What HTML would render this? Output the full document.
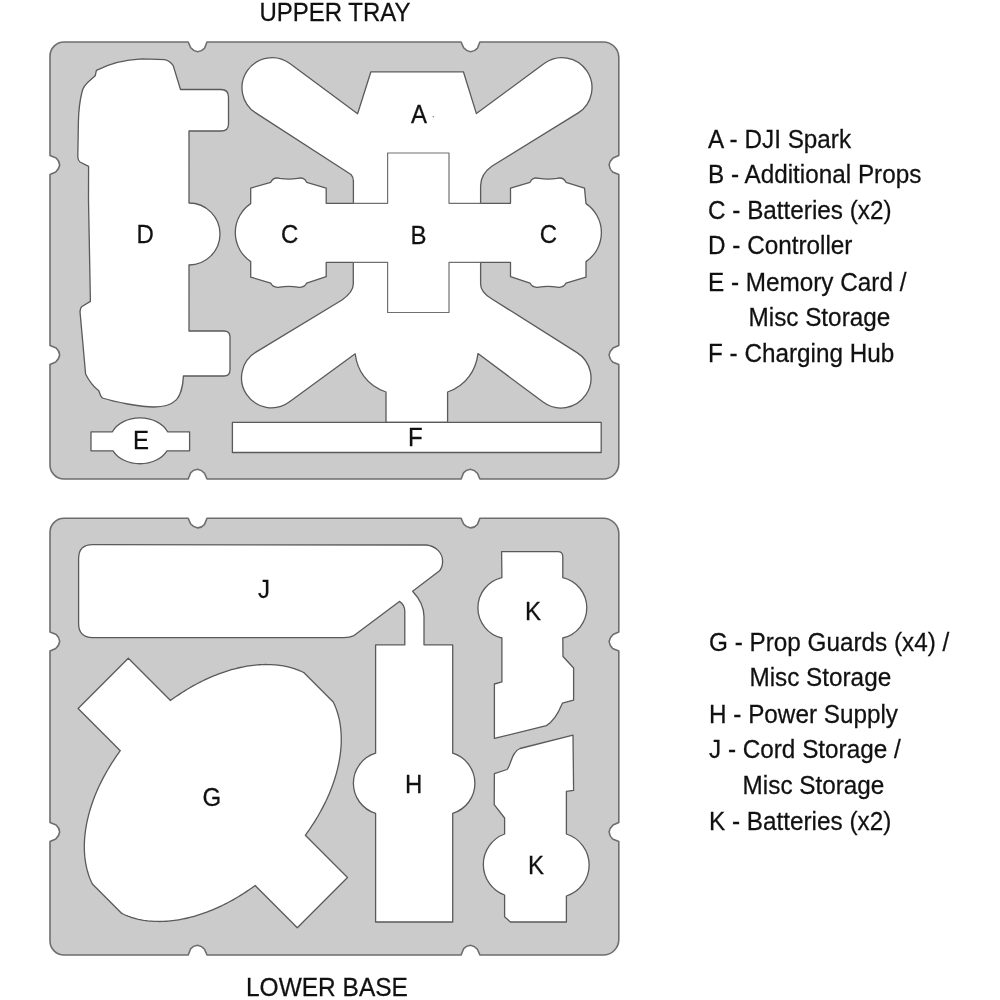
<!DOCTYPE html>
<html><head><meta charset="utf-8"><title>Tray layout</title>
<style>html,body{margin:0;padding:0;background:#fff;width:1000px;height:1000px;overflow:hidden;font-family:"Liberation Sans",sans-serif;}</style>
</head><body>
<svg width="1000" height="1000" viewBox="0 0 1000 1000" style="position:absolute;left:0;top:0;will-change:transform">
<g stroke="#5a5a5a" stroke-width="1.3" stroke-linejoin="round">
<path d="M64,42 L188.2,42 L190.7,47.8 Q193.4,51 197.6,51.7 Q202.2,51.1 204.5,48.2 L207,42 L461.1,42 L463.6,47.8 Q466.3,51 470.5,51.7 Q475.1,51.1 477.4,48.2 L479.9,42 L603.3,42 C611.82,42 618.8,48.98 618.8,57.5 L618.8,155.6 L613,158.1 Q609.8,160.8 609.1,165 Q609.7,169.6 612.6,171.9 L618.8,174.4 L618.8,345.6 L613,348.1 Q609.8,350.8 609.1,355 Q609.7,359.6 612.6,361.9 L618.8,364.4 L618.8,463.5 C618.8,472.02 611.82,479 603.3,479 L479.9,479 L477.4,473.2 Q474.7,470 470.5,469.3 Q465.9,469.9 463.6,472.8 L461.1,479 L207,479 L204.5,473.2 Q201.8,470 197.6,469.3 Q193,469.9 190.7,472.8 L188.2,479 L64,479 C56.3,479 50,472.7 50,465 L50,364.4 L55.8,361.9 Q59,359.2 59.7,355 Q59.1,350.4 56.2,348.1 L50,345.6 L50,174.4 L55.8,171.9 Q59,169.2 59.7,165 Q59.1,160.4 56.2,158.1 L50,155.6 L50,56 C50,48.3 56.3,42 64,42 Z" fill="#cbcbcb" stroke="#6e6e6e" stroke-width="1.6"/>
<path d="M64,518.2 L188.2,518.2 L190.7,524 Q193.4,527.2 197.6,527.9 Q202.2,527.3 204.5,524.4 L207,518.2 L461.1,518.2 L463.6,524 Q466.3,527.2 470.5,527.9 Q475.1,527.3 477.4,524.4 L479.9,518.2 L603.3,518.2 C611.82,518.2 618.8,525.18 618.8,533.7 L618.8,632.1 L613,634.6 Q609.8,637.3 609.1,641.5 Q609.7,646.1 612.6,648.4 L618.8,650.9 L618.8,822.6 L613,825.1 Q609.8,827.8 609.1,832 Q609.7,836.6 612.6,838.9 L618.8,841.4 L618.8,939.5 C618.8,948.02 611.82,955 603.3,955 L479.9,955 L477.4,949.2 Q474.7,946 470.5,945.3 Q465.9,945.9 463.6,948.8 L461.1,955 L207,955 L204.5,949.2 Q201.8,946 197.6,945.3 Q193,945.9 190.7,948.8 L188.2,955 L64,955 C56.3,955 50,948.7 50,941 L50,841.4 L55.8,838.9 Q59,836.2 59.7,832 Q59.1,827.4 56.2,825.1 L50,822.6 L50,650.9 L55.8,648.4 Q59,645.7 59.7,641.5 Q59.1,636.9 56.2,634.6 L50,632.1 L50,532.2 C50,524.5 56.3,518.2 64,518.2 Z" fill="#cbcbcb" stroke="#6e6e6e" stroke-width="1.6"/>
<g fill="#ffffff">
<path d="M96.4,70.4 C110,63 128,59.5 142,58.8 L164.8,59.6 Q170,61 173.2,65.6 L180.5,89.5 L221,89.5 Q228.5,89.5 228.5,97 L228.5,124 Q228.5,131 221,131 L189,131 L189,203 A31,31 0 0 1 189,265 L189,331 L224,331 Q230,331 230,337 L230,370 Q230,376 224,376 L183.4,376 C183,388 179.5,397 175.6,400.4 C172,404 165,407 154,407 C140,407 115,402 102.4,398 L100.6,395.6 L98.8,390.8 C94,387 89,381 85.6,374 L80,311.6 Q80.5,307.5 82,306.5 L90.4,301.4 L88.5,200 L88.6,166.4 L80,162 Q78,160.5 77.8,157 L78.4,122 C78.6,110 80,100 82,92 C83,87 86,83.5 90.4,80 L95.2,75.8 Z"/>
<path d="M91,431.8 L112.4,431.8 A30,23 0 0 1 167.6,431.8 L189.6,431.8 L189.6,450.8 L167,450.8 A30,23 0 0 1 113,450.8 L91,450.8 Z"/>
<path d="M370.9,71.8 L463.4,71.8 L476.4,113.6 L544.18,63.56 A30,30 0 1 1 578.24,112.92 L491.8,166.2 Q480.6,174 480.6,186 L480.6,203.3 L510.5,203.3 L510.5,188.1 L530,182.3 C532,177.6 535,177.6 539,178.3 Q548,179.8 557,178.3 C561,177.4 564,177.6 566,182.3 L584.5,188.1 L586,203.6 A35,35 0 0 1 586,261.6 L586,277.1 L566,283.1 C564,287.6 561,287.8 557,287.1 Q548,285.6 539,287.1 C535,287.8 532,287.6 530,283.1 L510.5,276.6 L510.5,262.3 L480.6,262.4 L480.6,284 Q480.6,292 491.2,298.5 L577.01,352.63 A30,30 0 1 1 543.08,402.06 L478,353.6 C476,370 466,386 447.6,392 L447.6,422.3 L386,422.3 L386,392 C367,386 357,370 355.2,353.8 L289.2,402.02 A30,30 0 1 1 255.95,352.14 L342,300 Q353.3,292 353.3,284 L353.3,262.4 L326.2,262.3 L326.2,276.6 L306.7,283.1 C304.7,287.6 301.7,287.8 297.7,287.1 Q288.7,285.6 279.7,287.1 C275.7,287.8 272.7,287.6 270.7,283.1 L250.7,277.1 L250.7,261.6 A35,35 0 0 1 250.7,203.6 L250.7,188.1 L270.7,182.3 C272.7,177.6 275.7,177.4 279.7,178.3 Q288.7,179.8 297.7,178.3 C301.7,177.6 304.7,177.6 306.7,182.3 L326.2,188.1 L326.2,203.3 L353.4,203.3 L353.4,181 Q353.4,177 351,174.5 L255.71,112.89 A30,30 0 1 1 289.84,63.58 L357.6,113.7 Z"/>
<path d="M232.4,422.3 L601.2,422.3 L601.2,452.5 L232.4,452.5 Z"/>
<path d="M353.4,203.3 L387.6,203.3 L387.6,153 L449,153 L449,203.3 L480.6,203.3 M353.4,262.3 L387.6,262.3 L387.6,312.5 L449,312.5 L449,262.3 L480.6,262.3" fill="none" stroke="#707070" stroke-width="1.2"/>
<path d="M92.6,544.6 L426.4,545 C436,546 442.6,553 442.6,561.2 C442.6,566 441,569 439.6,570.8 L412.6,591.2 C419,598 424,606 424,616.4 L424,644.8 L452.7,644.8 L452.7,753.2 A31.5,31.5 0 0 1 452.7,813.4 L452.7,922 L375.6,922 L375.6,813.4 A31.5,31.5 0 0 1 375.6,753.2 L375.6,644.8 L404.8,644.8 L404.8,611.6 C404.8,607 402,603 399.4,601.4 L354,635.6 C351,637 348,637.6 344,637.6 L92.6,637.6 Q78.6,637.6 78.6,623.6 L78.6,558.6 Q78.6,544.6 92.6,544.6 Z"/>
<path d="M501.6,551.6 L557.8,551.6 Q562.8,551.6 562.8,556.6 L562.8,577.6 A31,31 0 0 1 562.8,638 L563,656.5 L573.6,668 L573.6,700 L562.4,703.2 C560,709 556,720 546.4,725.6 L494.4,738.4 L494.4,684 L501.9,681.9 L501.9,638 A31,31 0 0 1 501.9,577.6 Z"/>
<path d="M494.4,773.6 L507,769.5 C511,766 511,752 520,748.5 L573,735.2 L573.6,790.4 L566.4,791.4 L566.4,834 A32.5,32.5 0 0 1 566.4,896 L566.4,922 L510.4,922 L504.6,916.8 L504.6,895 A32.5,32.5 0 0 1 504.6,834 L504.6,818 L494.2,804.7 Z"/>
<path d="M124.59,914.74 L126.23,915.44 L127.9,916.1 L129.6,916.72 L131.32,917.31 L133.07,917.85 L134.84,918.36 L136.63,918.84 L138.45,919.27 L140.29,919.66 L142.15,920.02 L144.03,920.34 L145.94,920.62 L147.86,920.86 L149.81,921.06 L151.77,921.22 L153.76,921.34 L155.76,921.42 L157.77,921.47 L159.81,921.48 L161.86,921.44 L163.92,921.37 L166.01,921.26 L168.1,921.11 L170.21,920.92 L172.33,920.69 L174.47,920.42 L176.61,920.11 L178.77,919.77 L180.94,919.38 L183.11,918.96 L185.3,918.5 L187.49,918 L189.7,917.46 L191.91,916.89 L194.12,916.28 L196.34,915.63 L198.57,914.94 L200.8,914.21 L203.03,913.45 L205.27,912.65 L207.51,911.82 L209.75,910.95 L211.99,910.04 L214.24,909.1 L216.48,908.12 L218.72,907.11 L220.96,906.06 L223.19,904.98 L225.43,903.86 L227.66,902.71 L229.88,901.53 L232.1,900.31 L234.32,899.06 L236.52,897.78 L238.72,896.46 L240.92,895.12 L243.1,893.74 L245.27,892.34 L247.44,890.9 L249.59,889.43 L251.73,887.94 L253.87,886.41 L255.1,885.5 L297.3,927.7 L347.5,877.5 L305.3,835.3 L306.21,834.07 L307.74,831.93 L309.23,829.79 L310.7,827.64 L312.14,825.47 L313.54,823.3 L314.92,821.12 L316.26,818.92 L317.58,816.72 L318.86,814.52 L320.11,812.3 L321.33,810.08 L322.51,807.86 L323.66,805.63 L324.78,803.39 L325.86,801.16 L326.91,798.92 L327.92,796.68 L328.9,794.44 L329.84,792.19 L330.75,789.95 L331.62,787.71 L332.45,785.47 L333.25,783.23 L334.01,781 L334.74,778.77 L335.43,776.54 L336.08,774.32 L336.69,772.11 L337.26,769.9 L337.8,767.69 L338.3,765.5 L338.76,763.31 L339.18,761.14 L339.57,758.97 L339.91,756.81 L340.22,754.67 L340.49,752.53 L340.72,750.41 L340.91,748.3 L341.06,746.21 L341.17,744.12 L341.24,742.06 L341.28,740.01 L341.27,737.97 L341.22,735.96 L341.14,733.96 L341.02,731.97 L340.86,730.01 L340.66,728.06 L340.42,726.14 L340.14,724.23 L339.82,722.35 L339.46,720.49 L339.07,718.65 L338.64,716.83 L338.16,715.04 L337.65,713.27 L337.11,711.52 L336.52,709.8 L335.9,708.1 L335.24,706.43 L334.54,704.79 L333.8,703.17 L333.24,702.01 L303.79,672.56 L302.63,672 L301.01,671.26 L299.37,670.56 L297.7,669.9 L296,669.28 L294.28,668.69 L292.53,668.15 L290.76,667.64 L288.97,667.16 L287.15,666.73 L285.31,666.34 L283.45,665.98 L281.57,665.66 L279.66,665.38 L277.74,665.14 L275.79,664.94 L273.83,664.78 L271.84,664.66 L269.84,664.58 L267.83,664.53 L265.79,664.52 L263.74,664.56 L261.68,664.63 L259.59,664.74 L257.5,664.89 L255.39,665.08 L253.27,665.31 L251.13,665.58 L248.99,665.89 L246.83,666.23 L244.66,666.62 L242.49,667.04 L240.3,667.5 L238.11,668 L235.9,668.54 L233.69,669.11 L231.48,669.72 L229.26,670.37 L227.03,671.06 L224.8,671.79 L222.57,672.55 L220.33,673.35 L218.09,674.18 L215.85,675.05 L213.61,675.96 L211.36,676.9 L209.12,677.88 L206.88,678.89 L204.64,679.94 L202.41,681.02 L200.17,682.14 L197.94,683.29 L195.72,684.47 L193.5,685.69 L191.28,686.94 L189.08,688.22 L186.88,689.54 L184.68,690.88 L182.5,692.26 L180.33,693.66 L178.16,695.1 L176.01,696.57 L173.87,698.06 L171.73,699.59 L170.5,700.5 L128.3,658.3 L78.1,708.5 L120.3,750.7 L119.39,751.93 L117.86,754.07 L116.37,756.21 L114.9,758.36 L113.46,760.53 L112.06,762.7 L110.68,764.88 L109.34,767.08 L108.02,769.28 L106.74,771.48 L105.49,773.7 L104.27,775.92 L103.09,778.14 L101.94,780.37 L100.82,782.61 L99.74,784.84 L98.69,787.08 L97.68,789.32 L96.7,791.56 L95.76,793.81 L94.85,796.05 L93.98,798.29 L93.15,800.53 L92.35,802.77 L91.59,805 L90.86,807.23 L90.17,809.46 L89.52,811.68 L88.91,813.89 L88.34,816.1 L87.8,818.31 L87.3,820.5 L86.84,822.69 L86.42,824.86 L86.03,827.03 L85.69,829.19 L85.38,831.33 L85.11,833.47 L84.88,835.59 L84.69,837.7 L84.54,839.79 L84.43,841.88 L84.36,843.94 L84.32,845.99 L84.33,848.03 L84.38,850.04 L84.46,852.04 L84.58,854.03 L84.74,855.99 L84.94,857.94 L85.18,859.86 L85.46,861.77 L85.78,863.65 L86.14,865.51 L86.53,867.35 L86.96,869.17 L87.44,870.96 L87.95,872.73 L88.49,874.48 L89.08,876.2 L89.7,877.9 L90.36,879.57 L91.06,881.21 L91.8,882.83 L92.36,883.99 L121.81,913.44 L122.97,914 L124.59,914.74 Z"/>
</g>
<circle cx="433.3" cy="116.8" r="0.8" fill="#888" stroke="none"/>
</g>
<g font-family="Liberation Sans, sans-serif" fill="#111" stroke="#111" stroke-width="0.25">
<text transform="translate(259.4,21) scale(1,1.045)" font-size="24">UPPER TRAY</text>
<text transform="translate(246,996) scale(1,1.045)" font-size="24.5">LOWER BASE</text>
<text transform="translate(411,123) scale(1,1.045)" font-size="24">A</text>
<text transform="translate(410.5,244) scale(1,1.045)" font-size="24">B</text>
<text transform="translate(281,243) scale(1,1.045)" font-size="24">C</text>
<text transform="translate(539.7,243) scale(1,1.045)" font-size="24">C</text>
<text transform="translate(136.5,243) scale(1,1.045)" font-size="24">D</text>
<text transform="translate(133,449) scale(1,1.045)" font-size="24">E</text>
<text transform="translate(408,446) scale(1,1.045)" font-size="24">F</text>
<text transform="translate(258,597.8) scale(1,1.045)" font-size="24">J</text>
<text transform="translate(525,620) scale(1,1.045)" font-size="24">K</text>
<text transform="translate(405,793) scale(1,1.045)" font-size="24">H</text>
<text transform="translate(202.5,806) scale(1,1.045)" font-size="24">G</text>
<text transform="translate(528,873.6) scale(1,1.045)" font-size="24">K</text>
<text transform="translate(708,147.5) scale(1,1.045)" font-size="24.3">A - DJI Spark</text>
<text transform="translate(708,183.2) scale(1,1.045)" font-size="24.3">B - Additional Props</text>
<text transform="translate(708,218.8) scale(1,1.045)" font-size="24.3">C - Batteries (x2)</text>
<text transform="translate(708,254.4) scale(1,1.045)" font-size="24.3">D - Controller</text>
<text transform="translate(708,290.5) scale(1,1.045)" font-size="24.3">E - Memory Card /</text>
<text transform="translate(748.5,325.9) scale(1,1.045)" font-size="24.3">Misc Storage</text>
<text transform="translate(708,362.2) scale(1,1.045)" font-size="24.3">F - Charging Hub</text>
<text transform="translate(709,650.6) scale(1,1.045)" font-size="24.3">G - Prop Guards (x4) /</text>
<text transform="translate(749.4,686.4) scale(1,1.045)" font-size="24.3">Misc Storage</text>
<text transform="translate(709,722.6) scale(1,1.045)" font-size="24.3">H - Power Supply</text>
<text transform="translate(709,758.4) scale(1,1.045)" font-size="24.3">J - Cord Storage /</text>
<text transform="translate(742.6,794.3) scale(1,1.045)" font-size="24.3">Misc Storage</text>
<text transform="translate(709,829.8) scale(1,1.045)" font-size="24.3">K - Batteries (x2)</text>
</g>
</svg>
</body></html>
